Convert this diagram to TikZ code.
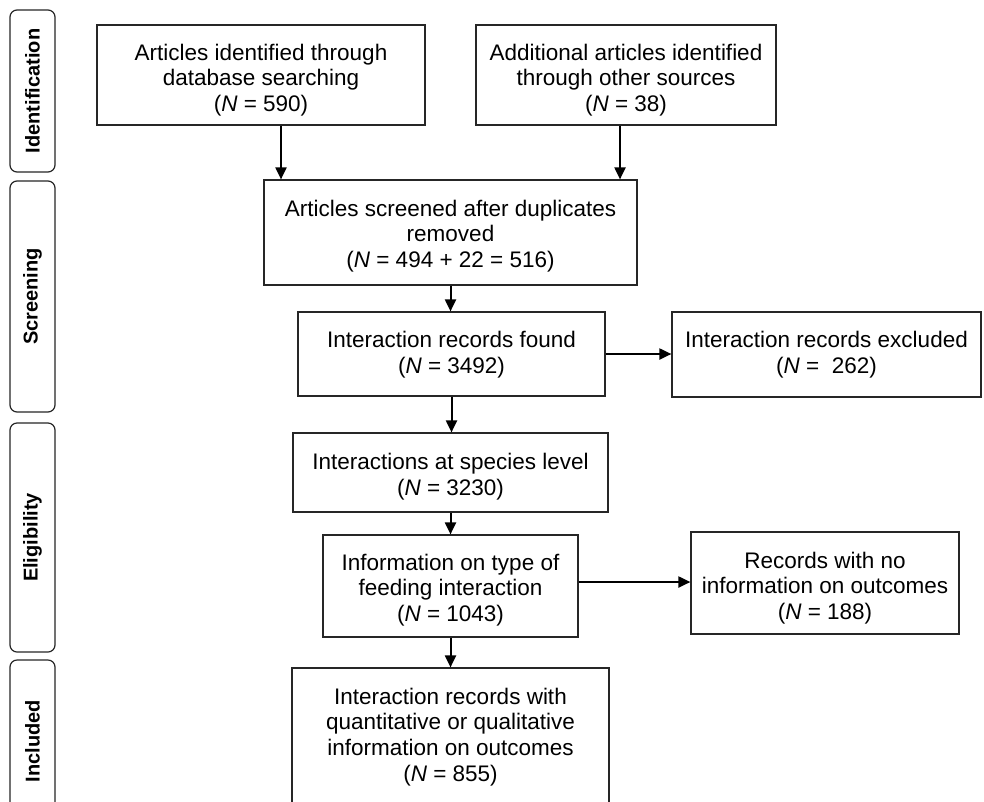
\documentclass[tikz,border=0pt]{standalone}
\usepackage{fontspec}
\setmainfont{Liberation Sans}
\usetikzlibrary{arrows.meta}
\begin{document}
\begin{tikzpicture}[x=1pt,y=-1pt,
  box/.style={draw=black!85, line width=1.2pt, rectangle, inner sep=0pt},
  txt/.style={align=center, font=\fontsize{22.5}{25.7}\selectfont, inner sep=0pt},
  phase/.style={draw=black!85, line width=1.2pt, rounded corners=7pt, inner sep=0pt, minimum width=45pt},
  plabel/.style={font=\fontsize{20}{22}\selectfont\bfseries, rotate=90, inner sep=0pt},
  arr/.style={line width=2pt, -{Triangle[length=12pt,width=11pt]}}]
\useasboundingbox[fill=white] (0,0) rectangle (984,801);

% phase boxes
\node[phase, minimum height=162pt] (p1) at (32.5,91) {};
\node[plabel] (l1) at (p1.center) {Identification};
\node[phase, minimum height=231pt] (p2) at (32.5,296.5) {};
\node[plabel] (l2) at (p2.center) {Screening};
\node[phase, minimum height=229pt] (p3) at (32.5,537.5) {};
\node[plabel] (l3) at (p3.center) {Eligibility};
\node[phase, minimum height=162pt] (p4) at (32.5,741) {};
\node[plabel] (l4) at (p4.center) {Included};

% boxes
\node[box, minimum width=328pt, minimum height=100pt] (b1) at (261,75) {};
\node[txt] (t1) at (261,80) {Articles identified through\\database searching\\(\textit{N} = 590)};
\node[box, minimum width=300pt, minimum height=100pt] (b2) at (626,75) {};
\node[txt] (t2) at (626,80) {Additional articles identified\\through other sources\\(\textit{N} = 38)};
\node[box, minimum width=373pt, minimum height=105pt] (b3) at (450.5,232.5) {};
\node[txt] (t3) at (450.5,236) {Articles screened after duplicates\\removed\\(\textit{N} = 494 + 22 = 516)};
\node[box, minimum width=307pt, minimum height=84pt] (b4) at (451.5,354) {};
\node[txt] (t4) at (451.5,355) {Interaction records found\\(\textit{N} = 3492)};
\node[box, minimum width=309pt, minimum height=85pt] (b5) at (826.5,354.5) {};
\node[txt] (t5) at (826.5,355) {Interaction records excluded\\(\textit{N} =\ \ 262)};
\node[box, minimum width=315pt, minimum height=79pt] (b6) at (450.5,472.5) {};
\node[txt] (t6) at (450.5,476.5) {Interactions at species level\\(\textit{N} = 3230)};
\node[box, minimum width=255pt, minimum height=102pt] (b7) at (450.5,586) {};
\node[txt] (t7) at (450.5,590) {Information on type of\\feeding interaction\\(\textit{N} = 1043)};
\node[box, minimum width=268pt, minimum height=102pt] (b8) at (825,583) {};
\node[txt] (t8) at (825,588) {Records with no\\information on outcomes\\(\textit{N} = 188)};
\node[box, minimum width=317pt, minimum height=170pt] (b9) at (450.5,753) {};
\node[txt] (t9) at (450.5,737) {Interaction records with\\quantitative or qualitative\\information on outcomes\\(\textit{N} = 855)};

% arrows
\draw[arr] ([xshift=20pt]b1.south) -- ([xshift=20pt]b1.south |- b3.north);
\draw[arr] ([xshift=-6pt]b2.south) -- ([xshift=-6pt]b2.south |- b3.north);
\draw[arr] (b3.south) -- (b3.south |- b4.north);
\draw[arr] (b4.east) -- (b4.east -| b5.west);
\draw[arr] (b4.south) -- (b4.south |- b6.north);
\draw[arr] (b6.south) -- (b6.south |- b7.north);
\draw[arr] ([yshift=4pt]b7.east) -- ([yshift=4pt]b7.east -| b8.west);
\draw[arr] (b7.south) -- (b7.south |- b9.north);
\end{tikzpicture}
\end{document}
